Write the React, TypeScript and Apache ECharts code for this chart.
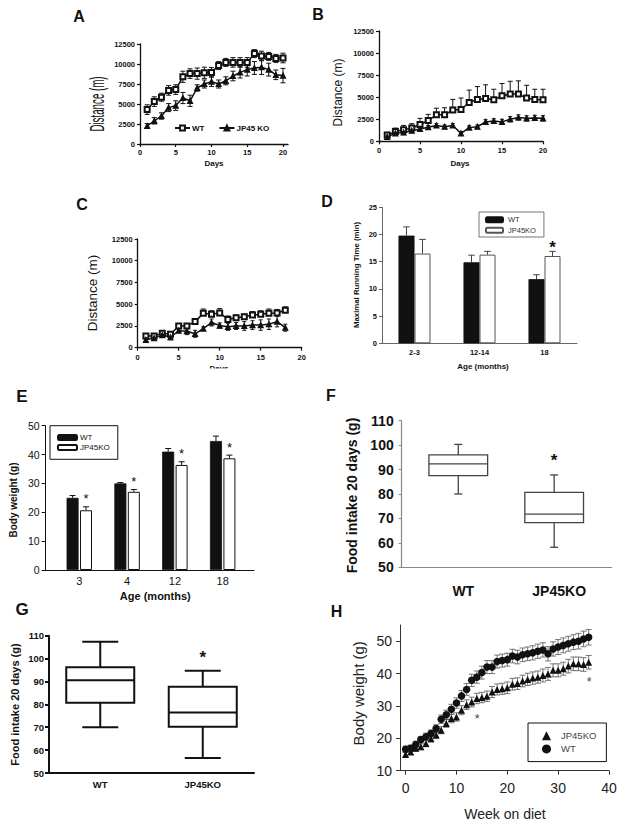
import React, { useEffect, useRef } from "react";
import * as echarts from "echarts";

const FONT = 'Arial, "Liberation Sans", Helvetica, sans-serif';
const INK = "#111111";

// ---------- Panel A ----------
const A_DAYS = [1, 2, 3, 4, 5, 6, 7, 8, 9, 10, 11, 12, 13, 14, 15, 16, 17, 18, 19, 20];
const A_WT = [4300, 5300, 5850, 6700, 6800, 8400, 8800, 8800, 8900, 8950, 9800, 10200, 10200, 10200, 10200, 11300, 11000, 10950, 10700, 10750];
const A_WT_ERR = [600, 600, 500, 600, 600, 700, 600, 700, 700, 600, 500, 500, 600, 600, 600, 500, 600, 500, 500, 600];
const A_KO = [2250, 2900, 3500, 4550, 4800, 5750, 5400, 7000, 7500, 7800, 7500, 7900, 8500, 8950, 9300, 9500, 9600, 9300, 8650, 8550];
const A_KO_ERR = [300, 400, 400, 500, 600, 700, 700, 400, 500, 600, 500, 500, 600, 700, 800, 800, 900, 800, 600, 900];

// ---------- Panel B ----------
const B_DAYS = [1, 2, 3, 4, 5, 6, 7, 8, 9, 10, 11, 12, 13, 14, 15, 16, 17, 18, 19, 20];
const B_WT = [700, 1100, 1300, 1500, 1900, 2350, 3000, 3000, 3550, 3600, 4400, 4750, 4850, 4700, 5150, 5350, 5350, 4900, 4750, 4700];
const B_WT_ERR = [300, 400, 500, 500, 700, 700, 750, 800, 1200, 1300, 1400, 1450, 1550, 1200, 1400, 1450, 1500, 1450, 1150, 1200];
const B_KO = [500, 900, 1000, 1200, 1400, 1600, 1800, 1650, 1800, 900, 1550, 1650, 2200, 2300, 2200, 2500, 2700, 2600, 2650, 2600];
const B_KO_ERR = [200, 200, 250, 200, 250, 200, 200, 200, 200, 200, 200, 200, 250, 250, 300, 300, 300, 300, 300, 300];

// ---------- Panel C ----------
const C_DAYS = [1, 2, 3, 4, 5, 6, 7, 8, 9, 10, 11, 12, 13, 14, 15, 16, 17, 18];
const C_WT = [1350, 1350, 1650, 1550, 2500, 2500, 3000, 3950, 3850, 4000, 3250, 3450, 3550, 3750, 3850, 3950, 4000, 4300];
const C_WT_ERR = [200, 200, 200, 200, 200, 200, 300, 500, 400, 500, 400, 300, 300, 400, 400, 500, 400, 400];
const C_KO = [900, 1100, 1450, 1200, 1950, 1900, 1600, 2200, 2900, 2550, 2400, 2500, 2500, 2600, 2600, 2700, 3000, 2300];
const C_KO_ERR = [200, 200, 200, 300, 200, 400, 400, 200, 400, 300, 400, 400, 500, 500, 600, 600, 600, 400];

const DAY_TICKS = [0, 5, 10, 15, 20];

// ---------- Panel D ----------
const D_CATS = ["2-3", "12-14", "18"];
const D_WT = [19.8, 14.9, 11.8];
const D_WT_ERR = [1.6, 1.3, 0.8];
const D_KO = [16.5, 16.3, 16.05];
const D_KO_ERR = [2.6, 0.6, 0.85];
const D_STAR = [0, 0, 1];

// ---------- Panel E ----------
const E_CATS = ["3", "4", "12", "18"];
const E_POS = [1, 2, 3, 4];
const E_WT = [25.0, 30.0, 41.0, 44.7];
const E_WT_ERR = [0.8, 0.3, 1.1, 1.7];
const E_KO = [20.7, 27.1, 36.4, 38.7];
const E_KO_ERR = [1.2, 0.8, 1.1, 1.1];
const E_STAR = [1, 1, 1, 1];

// ---------- Panel F (min, Q1, median, Q3, max) ----------
const F_CATS = ["WT", "JP45KO"];
const F_POS = [1, 2];
const F_WT_BOX = [80, 87.5, 92.3, 96, 100.3];
const F_KO_BOX = [58.2, 68.3, 71.8, 80.7, 87.8];
const F_STAR = [0, 1];

// ---------- Panel G ----------
const G_CATS = ["WT", "JP45KO"];
const G_WT_BOX = [70, 80.7, 90.5, 96.2, 107.4];
const G_KO_BOX = [56.6, 70.2, 76.4, 87.7, 94.7];
const G_STAR = [0, 1];

// ---------- Panel H ----------
const H_WEEKS = [0, 1, 2, 3, 4, 5, 6, 7, 8, 9, 10, 11, 12, 13, 14, 15, 16, 17, 18, 19, 20, 21, 22, 23, 24, 25, 26, 27, 28, 29, 30, 31, 32, 33, 34, 35, 36];
const H_WT = [16.6, 16.9, 18.1, 19.6, 20.5, 21.5, 23.0, 25.9, 27.3, 29.0, 30.9, 33.1, 35.1, 37.9, 38.9, 40.3, 42.0, 42.0, 43.7, 44.0, 44.3, 45.4, 45.1, 45.8, 46.1, 46.4, 46.9, 47.3, 46.1, 47.6, 48.2, 48.7, 49.2, 49.7, 50.0, 50.7, 51.2];
const H_WT_ERR = [1.0, 1.0, 1.0, 1.0, 1.1, 1.1, 1.2, 1.3, 1.4, 1.5, 1.6, 1.7, 1.8, 1.9, 1.9, 2.0, 2.0, 2.0, 2.0, 2.0, 2.0, 2.1, 2.1, 2.1, 2.1, 2.2, 2.2, 2.2, 2.2, 2.2, 2.3, 2.3, 2.3, 2.3, 2.4, 2.4, 2.4];
const H_KO = [15.0, 15.8, 16.9, 17.4, 18.4, 19.9, 21.0, 22.5, 24.6, 26.1, 26.6, 28.7, 30.4, 31.2, 32.3, 32.6, 33.0, 34.3, 35.1, 35.3, 35.6, 36.7, 36.9, 37.7, 38.2, 38.6, 38.9, 39.4, 39.9, 41.0, 41.0, 41.5, 42.3, 43.0, 43.0, 42.8, 43.5];
const H_KO_ERR = [0.8, 0.8, 0.9, 0.9, 1.0, 1.0, 1.1, 1.1, 1.2, 1.3, 1.3, 1.4, 1.5, 1.5, 1.6, 1.6, 1.6, 1.7, 1.7, 1.7, 1.8, 1.8, 1.8, 1.8, 1.9, 1.9, 1.9, 2.0, 2.0, 2.0, 2.0, 2.0, 2.1, 2.1, 2.1, 2.1, 2.1];
const H_STARS = [[14.1, 26.1], [36.1, 37.4]];
const H_XTICKS = [0, 10, 20, 30, 40];
const H_YTICKS = [10, 20, 30, 40, 50];

const font = (size: number, bold = false) => `${bold ? "bold " : ""}${size}px ${FONT}`;

type ErrOpts = { cap: number; color: string; width: number; dir: "both" | "up" | "down"; dx?: number; starGap?: number; starFont?: string };
const makeErr = (o: ErrOpts) => (params: any, api: any) => {
  const x = api.value(0);
  const v = api.value(1);
  const e = api.value(2);
  const star = api.value(3);
  const c = api.coord([x, v]);
  const hi = api.coord([x, v + e]);
  const lo = api.coord([x, v - e]);
  const cx = c[0] + (o.dx || 0);
  const st = { stroke: o.color, lineWidth: o.width };
  const yTop = o.dir === "down" ? c[1] : hi[1];
  const yBot = o.dir === "up" ? c[1] : lo[1];
  const ch: any[] = [{ type: "line", shape: { x1: cx, y1: yTop, x2: cx, y2: yBot }, style: st }];
  if (o.dir !== "down") ch.push({ type: "line", shape: { x1: cx - o.cap, y1: hi[1], x2: cx + o.cap, y2: hi[1] }, style: st });
  if (o.dir !== "up") ch.push({ type: "line", shape: { x1: cx - o.cap, y1: lo[1], x2: cx + o.cap, y2: lo[1] }, style: st });
  if (star && o.starFont) {
    ch.push({ type: "text", style: { text: "*", x: cx, y: hi[1] - (o.starGap || 0), align: "center", verticalAlign: "middle", font: o.starFont, fill: INK } });
  }
  return { type: "group", children: ch };
};

type BoxOpts = { boxW: number; capW: number; color: string; width: number; starGap: number; starFont: string };
const makeBox = (o: BoxOpts) => (params: any, api: any) => {
  const x = api.value(0);
  const v = [1, 2, 3, 4, 5].map((k) => api.value(k));
  const star = api.value(6);
  const py = v.map((val) => api.coord([x, val])[1]);
  const cx = api.coord([x, v[2]])[0];
  const hw = o.boxW / 2;
  const cw = o.capW / 2;
  const st = { stroke: o.color, lineWidth: o.width, fill: "none" };
  const L = (x1: number, y1: number, x2: number, y2: number) => ({ type: "line", shape: { x1, y1, x2, y2 }, style: st });
  const ch: any[] = [
    { type: "rect", shape: { x: cx - hw, y: py[3], width: o.boxW, height: py[1] - py[3] }, style: st },
    L(cx - hw, py[2], cx + hw, py[2]),
    L(cx, py[3], cx, py[4]),
    L(cx, py[1], cx, py[0]),
    L(cx - cw, py[4], cx + cw, py[4]),
    L(cx - cw, py[0], cx + cw, py[0]),
  ];
  if (star) ch.push({ type: "text", style: { text: "*", x: cx, y: py[4] - o.starGap, align: "center", verticalAlign: "middle", font: o.starFont, fill: INK } });
  return { type: "group", children: ch };
};

const starText = (fontStr: string, color: string) => (params: any, api: any) => {
  const p = api.coord([api.value(0), api.value(1)]);
  return {
    type: "group",
    children: [{ type: "text", style: { text: "*", x: p[0], y: p[1], align: "center", verticalAlign: "middle", font: fontStr, fill: color } }],
  };
};

const plain = (v: number) => String(v);

const label = (size: number, bold: boolean, margin: number, color = INK) => ({
  show: true,
  margin,
  color,
  fontFamily: FONT,
  fontSize: size,
  fontWeight: bold ? "bold" : "normal",
  formatter: plain,
});

const line = (color: string, width: number) => ({ show: true, onZero: false, lineStyle: { color, width } });
const tick = (color: string, width: number, length: number) => ({ show: true, inside: false, length, lineStyle: { color, width } });
const noSplit = { show: false };

const txt = (text: string, x: number, y: number, size: number, bold: boolean, o: { rot?: number; sx?: number; color?: string } = {}) => ({
  type: "text",
  x,
  y,
  rotation: o.rot || 0,
  scaleX: o.sx || 1,
  silent: true,
  z: 50,
  style: { text, fill: o.color || INK, font: font(size, bold), align: "center", verticalAlign: "middle" },
});

const R = Math.PI / 2;
const nameOf = (n: string) => n.split("|")[0];

function buildOption(): any {
  const grid = [
    { left: 140, top: 44, width: 148, height: 100 },
    { left: 379, top: 31, width: 164, height: 110.3 },
    { left: 137.7, top: 239, width: 164, height: 108.7 },
    { left: 382, top: 207.3, width: 195, height: 136 },
    { left: 45.7, top: 425.7, width: 208.3, height: 144.3 },
    { left: 401.7, top: 420.7, width: 210, height: 146.6 },
    { left: 49, top: 635.7, width: 205, height: 137.3 },
    { left: 400, top: 625, width: 209, height: 145.7 },
  ].map((g) => ({ ...g, outerBoundsMode: "none", containLabel: false, show: false }));

  const distY = (gi: number, margin: number) => ({
    type: "value", gridIndex: gi, min: 0, max: 12500, interval: 2500,
    axisLine: line(INK, 1.3), axisTick: tick(INK, 1.2, 3), axisLabel: label(7.5, true, margin), splitLine: noSplit,
  });

  const xAxis = [
    { type: "value", gridIndex: 0, min: 0, max: 20.7, axisLine: line(INK, 1.3),
      axisTick: { ...tick(INK, 1.2, 3), customValues: DAY_TICKS }, axisLabel: { ...label(7.5, true, 4), customValues: DAY_TICKS }, splitLine: noSplit },
    { type: "value", gridIndex: 1, min: 0, max: 20, interval: 5, axisLine: line(INK, 1.3), axisTick: tick(INK, 1.2, 3), axisLabel: label(7.5, true, 5), splitLine: noSplit },
    { type: "value", gridIndex: 2, min: 0, max: 20, interval: 5, axisLine: line(INK, 1.3), axisTick: tick(INK, 1.2, 3), axisLabel: label(7.5, true, 6), splitLine: noSplit },
    { type: "category", gridIndex: 3, data: D_CATS, axisLine: line("#666", 1), axisTick: { show: false },
      axisLabel: { ...label(7.5, true, 5), formatter: (v: string) => v }, splitLine: noSplit },
    { type: "value", gridIndex: 4, min: 0.297, max: 4.655, axisLine: line(INK, 1), axisTick: { show: false },
      axisLabel: { ...label(11, false, 5), customValues: E_POS, formatter: (v: number) => E_CATS[Math.round(v) - 1] || "" }, splitLine: noSplit },
    { type: "value", gridIndex: 5, min: 0.41, max: 2.6, axisLine: line("#888", 1.2), axisTick: { show: false },
      axisLabel: { ...label(14, true, 17), customValues: F_POS, formatter: (v: number) => F_CATS[Math.round(v) - 1] || "", padding: [0, 0, 0, 10] }, splitLine: noSplit },
    { type: "category", gridIndex: 6, data: G_CATS, axisLine: line(INK, 2), axisTick: { show: false },
      axisLabel: { ...label(9.5, true, 6), formatter: (v: string) => v }, splitLine: noSplit },
    { type: "value", gridIndex: 7, min: -1.1, max: 40, axisLine: line("#333", 1),
      axisTick: { ...tick("#333", 1, 4), customValues: H_XTICKS }, axisLabel: { ...label(14, false, 10, "#222"), customValues: H_XTICKS }, splitLine: noSplit },
  ];

  const yAxis = [
    distY(0, 5),
    distY(1, 5),
    distY(2, 5),
    { type: "value", gridIndex: 3, min: 0, max: 25, interval: 5, axisLine: line("#666", 1), axisTick: tick("#666", 1, 3), axisLabel: label(7.5, true, 5), splitLine: noSplit },
    { type: "value", gridIndex: 4, min: 0, max: 50, interval: 10, axisLine: line(INK, 1), axisTick: tick(INK, 1, 4), axisLabel: label(10.5, false, 6), splitLine: noSplit },
    { type: "value", gridIndex: 5, min: 50, max: 110, interval: 10, axisLine: line("#888", 1.2), axisTick: tick("#888", 1, 3), axisLabel: label(14, true, 8), splitLine: noSplit },
    { type: "value", gridIndex: 6, min: 50, max: 110, interval: 10, axisLine: line(INK, 2), axisTick: tick(INK, 2, 4), axisLabel: label(9.5, true, 5), splitLine: noSplit },
    { type: "value", gridIndex: 7, min: 10, max: 55, axisLine: line("#333", 1),
      axisTick: { ...tick("#333", 1, 4), customValues: H_YTICKS }, axisLabel: { ...label(14, false, 8, "#222"), customValues: H_YTICKS }, splitLine: noSplit },
  ];

  const errSeries = (gi: number, data: any[], o: ErrOpts) => ({
    type: "custom", xAxisIndex: gi, yAxisIndex: gi, data, encode: { x: 0, y: 1 }, clip: false, silent: true, z: 1, renderItem: makeErr(o),
  });
  const trio = (xs: number[], ys: number[], es: number[]) => xs.map((x, i) => [x, ys[i], es[i], 0]);

  const lineSeries = (gi: number, name: string, xs: number[], ys: number[], symbol: string, size: number) => ({
    type: "line", name, xAxisIndex: gi, yAxisIndex: gi, data: xs.map((x, i) => [x, ys[i]]), symbol, symbolSize: size, showSymbol: true,
    z: 3, silent: true, lineStyle: { color: INK, width: 1.5 }, itemStyle: { color: INK, borderColor: INK, borderWidth: 1.2, opacity: 1 },
  });

  const series: any[] = [
    // A
    errSeries(0, trio(A_DAYS, A_WT, A_WT_ERR), { cap: 2.5, color: INK, width: 1, dir: "both" }),
    errSeries(0, trio(A_DAYS, A_KO, A_KO_ERR), { cap: 2.5, color: INK, width: 1, dir: "both" }),
    lineSeries(0, "WT|A", A_DAYS, A_WT, "emptyRect", 5),
    lineSeries(0, "JP45 KO|A", A_DAYS, A_KO, "triangle", 5),
    // B
    errSeries(1, trio(B_DAYS, B_WT, B_WT_ERR), { cap: 2.5, color: INK, width: 1, dir: "up" }),
    errSeries(1, trio(B_DAYS, B_KO, B_KO_ERR), { cap: 2, color: INK, width: 1, dir: "both" }),
    lineSeries(1, "WT|B", B_DAYS, B_WT, "emptyRect", 5),
    lineSeries(1, "JP45 KO|B", B_DAYS, B_KO, "triangle", 5),
    // C
    errSeries(2, trio(C_DAYS, C_WT, C_WT_ERR), { cap: 2.5, color: INK, width: 1, dir: "up" }),
    errSeries(2, trio(C_DAYS, C_KO, C_KO_ERR), { cap: 2, color: INK, width: 1, dir: "both" }),
    lineSeries(2, "WT|C", C_DAYS, C_WT, "emptyRect", 5),
    lineSeries(2, "JP45 KO|C", C_DAYS, C_KO, "triangle", 5),
    // D
    { type: "bar", name: "WT|D", xAxisIndex: 3, yAxisIndex: 3, data: D_WT, barWidth: 16, barGap: "0%", silent: true,
      itemStyle: { color: INK, borderColor: INK, borderWidth: 0.8 } },
    { type: "bar", name: "JP45KO|D", xAxisIndex: 3, yAxisIndex: 3, data: D_KO, barWidth: 16, barGap: "0%", silent: true,
      itemStyle: { color: "#ffffff", borderColor: "#555", borderWidth: 1 } },
    errSeries(3, D_CATS.map((c, i) => [i, D_WT[i], D_WT_ERR[i], 0]), { cap: 3.3, color: "#444", width: 1, dir: "up", dx: -8 }),
    errSeries(3, D_CATS.map((c, i) => [i, D_KO[i], D_KO_ERR[i], D_STAR[i]]), { cap: 3.3, color: "#444", width: 1, dir: "up", dx: 8, starGap: 4, starFont: font(17, true) }),
    // E
    { type: "bar", name: "WT|E", xAxisIndex: 4, yAxisIndex: 4, data: E_POS.map((p, i) => [p, E_WT[i]]), barWidth: 12, barGap: "12%", silent: true,
      itemStyle: { color: INK, borderColor: INK, borderWidth: 0.8 } },
    { type: "bar", name: "JP45KO|E", xAxisIndex: 4, yAxisIndex: 4, data: E_POS.map((p, i) => [p, E_KO[i]]), barWidth: 12, barGap: "12%", silent: true,
      itemStyle: { color: "#ffffff", borderColor: INK, borderWidth: 1 } },
    errSeries(4, E_POS.map((p, i) => [p, E_WT[i], E_WT_ERR[i], 0]), { cap: 3, color: INK, width: 1, dir: "up", dx: -6.72 }),
    errSeries(4, E_POS.map((p, i) => [p, E_KO[i], E_KO_ERR[i], E_STAR[i]]), { cap: 3, color: INK, width: 1, dir: "up", dx: 6.72, starGap: 8, starFont: font(13, false) }),
    // F
    { type: "custom", xAxisIndex: 5, yAxisIndex: 5, silent: true, clip: false, encode: { x: 0, y: 3 },
      data: [[F_POS[0], ...F_WT_BOX, F_STAR[0]], [F_POS[1], ...F_KO_BOX, F_STAR[1]]],
      renderItem: makeBox({ boxW: 58.7, capW: 8, color: "#444", width: 1.3, starGap: 14, starFont: font(17, true) }) },
    // G
    { type: "custom", xAxisIndex: 6, yAxisIndex: 6, silent: true, clip: false, encode: { x: 0, y: 3 },
      data: [[0, ...G_WT_BOX, G_STAR[0]], [1, ...G_KO_BOX, G_STAR[1]]],
      renderItem: makeBox({ boxW: 68, capW: 36, color: INK, width: 2, starGap: 13, starFont: font(17, true) }) },
    // H
    errSeries(7, trio(H_WEEKS, H_WT, H_WT_ERR), { cap: 3, color: "#555", width: 0.8, dir: "both" }),
    errSeries(7, trio(H_WEEKS, H_KO, H_KO_ERR), { cap: 3, color: "#555", width: 0.8, dir: "both" }),
    { type: "scatter", name: "JP45KO|H", xAxisIndex: 7, yAxisIndex: 7, data: H_WEEKS.map((w, i) => [w, H_KO[i]]), symbol: "triangle", symbolSize: 7,
      silent: true, z: 3, itemStyle: { color: INK, opacity: 1 } },
    { type: "scatter", name: "WT|H", xAxisIndex: 7, yAxisIndex: 7, data: H_WEEKS.map((w, i) => [w, H_WT[i]]), symbol: "circle", symbolSize: 7.5,
      silent: true, z: 3, itemStyle: { color: INK, opacity: 1 } },
    { type: "custom", xAxisIndex: 7, yAxisIndex: 7, silent: true, clip: false, encode: { x: 0, y: 1 }, data: H_STARS,
      itemStyle: { color: "#444" }, renderItem: starText(font(12.5, false), "#444") },
  ];

  const legend = [
    { left: 174, top: 124, orient: "horizontal", data: ["WT|A", "JP45 KO|A"], itemWidth: 15, itemHeight: 6, itemGap: 14, padding: 0,
      selectedMode: false, formatter: nameOf, textStyle: { fontFamily: FONT, fontSize: 8, fontWeight: "bold", color: INK, padding: [0, 0, 0, -3] } },
    { left: 479, top: 212, orient: "vertical", data: ["WT|D", "JP45KO|D"], itemWidth: 17, itemHeight: 5, itemGap: 1, padding: [3, 8, 2, 6],
      borderColor: "#777", borderWidth: 1, selectedMode: false, formatter: nameOf,
      textStyle: { fontFamily: FONT, fontSize: 7.5, color: "#333", lineHeight: 9.5 } },
    { left: 50, top: 425.7, orient: "vertical", data: ["WT|E", "JP45KO|E"], itemWidth: 19, itemHeight: 5, itemGap: 0, padding: [7, 8, 7, 7],
      borderColor: INK, borderWidth: 1, selectedMode: false, formatter: nameOf,
      textStyle: { fontFamily: FONT, fontSize: 8, color: INK, lineHeight: 9.8, padding: [0, 0, 0, -2] } },
    { left: 528, top: 723, orient: "vertical", data: ["JP45KO|H", "WT|H"], itemWidth: 9, itemHeight: 9, itemGap: 2, padding: [7, 10, 7, 14],
      borderColor: INK, borderWidth: 1, selectedMode: false, formatter: nameOf,
      textStyle: { fontFamily: FONT, fontSize: 9.5, color: "#444", lineHeight: 11.3, padding: [0, 0, 0, 5] } },
  ];

  const graphic = [
    // Panel letters
    txt("A", 79, 16, 16, true),
    txt("B", 318, 14, 16, true),
    txt("C", 82, 204, 16, true),
    txt("D", 327, 201, 16, true),
    txt("E", 22, 396, 17, true),
    txt("F", 331, 395.5, 16, true),
    txt("G", 22, 609, 17, true),
    txt("H", 336.5, 611, 16, true),
    // Axis titles
    txt("Distance (m)", 97, 104, 19.5, false, { rot: R, sx: 0.5 }),
    txt("Days", 214, 163, 8, true),
    txt("Distance (m)", 338, 92.5, 12, false, { rot: R }),
    txt("Days", 460, 163.5, 8, true),
    txt("Distance (m)", 92, 293, 13.5, false, { rot: R }),
    txt("Days", 219, 368, 8, true),
    { type: "rect", z: 60, silent: true, shape: { x: 195, y: 368.6, width: 50, height: 8 }, style: { fill: "#ffffff" } },
    txt("Maximal Running Time (min)", 356, 275, 7.8, true, { rot: R }),
    txt("Age (months)", 483, 366, 8, true),
    txt("Body weight (g)", 13.3, 500, 10, true, { rot: R }),
    txt("Age (months)", 155.3, 596, 11, true),
    txt("Food intake 20 days (g)", 351.7, 495.5, 14, true, { rot: R }),
    txt("Food intake 20 days (g)", 15, 704.5, 11, true, { rot: R }),
    txt("Body weight (g)", 358.8, 693.3, 15, false, { rot: R, color: "#222" }),
    txt("Week on diet", 505, 814, 14, false, { color: "#222" }),
  ];

  return { animation: false, backgroundColor: "#ffffff", grid, xAxis, yAxis, series, legend, graphic, tooltip: { show: false } };
}

export default function App() {
  const ref = useRef<HTMLDivElement>(null);
  useEffect(() => {
    document.body.style.margin = "0";
    const chart = echarts.init(ref.current!, null, { renderer: "svg", width: 624, height: 826 });
    chart.setOption(buildOption());
    return () => chart.dispose();
  }, []);
  return <div ref={ref} style={{ position: "absolute", left: 0, top: 0, width: 624, height: 826, background: "#fff" }} />;
}
